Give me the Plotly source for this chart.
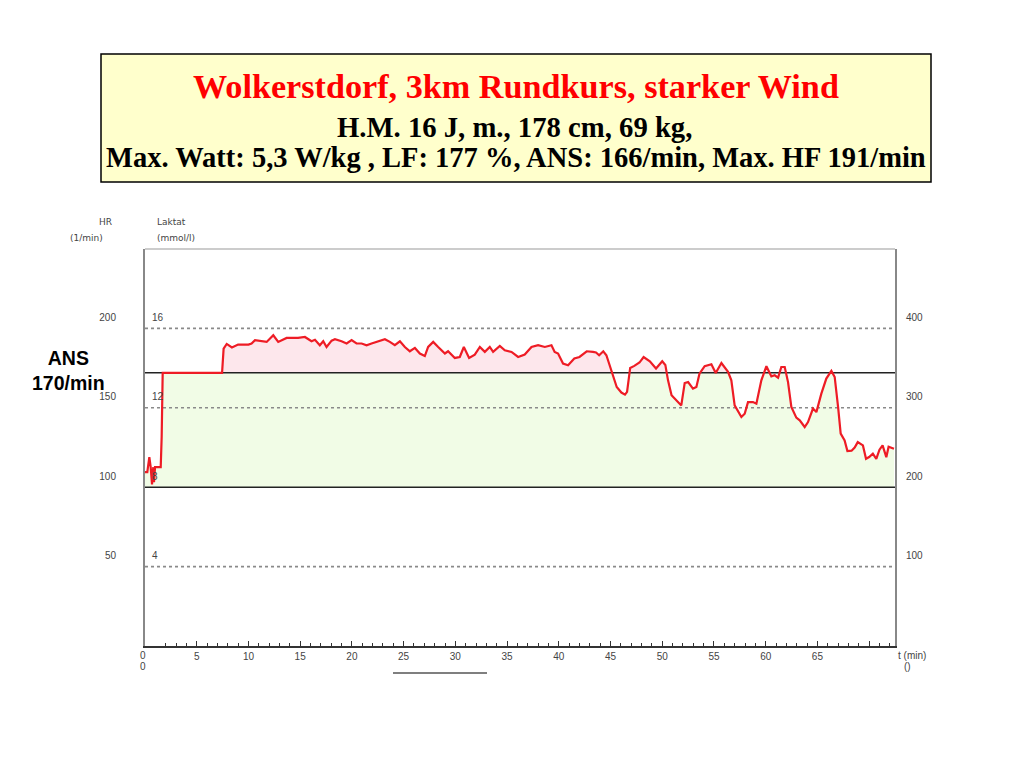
import plotly.graph_objects as go

# ---------------- data ----------------
t_min = [0.0, 0.22, 0.42, 0.55, 0.68, 0.80, 0.87, 0.97, 1.52, 1.61, 1.71, 7.45,
         7.6, 7.9, 8.4, 9.0, 10.0, 10.3, 10.63, 11.27, 11.76, 12.4, 12.88, 13.69,
         14.8, 15.46, 16.1, 16.43, 16.9, 17.23, 17.55, 18.04, 18.36, 19.0, 19.49,
         19.97, 20.45, 20.94, 21.42, 21.9, 22.53, 23.19, 23.67, 24.15, 24.64, 25.12,
         25.6, 26.09, 26.57, 27.05, 27.37, 27.86, 28.34, 28.99, 29.3, 29.95, 30.43,
         30.82, 31.33, 31.88, 32.37, 32.85, 33.33, 33.65, 34.3, 34.78, 35.43, 36.07,
         36.71, 37.36, 38.0, 38.65, 39.29, 39.6, 39.93, 40.41, 40.9, 41.5, 42.0,
         42.7, 43.3, 43.6, 43.9, 44.3, 44.6, 45.1, 45.6, 46.05, 46.4, 46.6, 46.9,
         47.3, 47.8, 48.2, 48.8, 49.4, 50.0, 50.3, 50.56, 50.9, 51.35, 51.84, 52.17,
         52.5, 52.97, 53.3, 53.6, 54.1, 54.75, 55.17, 55.72, 56.36, 56.68, 57.0,
         57.65, 57.97, 58.29, 58.77, 59.1, 59.58, 60.07, 60.55, 60.87, 61.2, 61.51,
         61.84, 62.16, 62.48, 62.96, 63.29, 63.77, 64.09, 64.57, 64.9, 65.38, 65.86,
         66.35, 66.67, 67.0, 67.25, 67.63, 67.9, 68.3, 68.6, 68.9, 69.4, 69.7, 70.0,
         70.36, 70.69, 71.0, 71.3, 71.66, 71.88, 72.4]
hr_bpm = [109.5, 109.5, 118.9, 112.6, 101.7, 112.6, 103.2, 112.6, 112.6, 131.5, 172.0, 172.0,
          187.3, 190.2, 188.0, 189.8, 189.8, 190.5, 192.6, 191.9, 191.5, 195.7, 191.5, 194.0,
          194.0, 194.6, 191.9, 192.8, 189.4, 191.9, 188.3, 192.3, 193.2, 191.9, 190.5,
          192.6, 190.5, 190.5, 189.4, 190.5, 191.9, 193.2, 191.5, 189.4, 191.9, 188.3,
          185.6, 187.7, 184.2, 182.6, 188.3, 191.5, 188.3, 184.2, 185.6, 181.4, 182.0,
          188.3, 181.4, 183.5, 188.3, 185.2, 188.3, 185.2, 189.0, 186.2, 185.2, 182.0,
          183.5, 188.3, 189.4, 188.3, 189.4, 185.2, 184.2, 177.9, 176.8, 181.0, 182.0,
          185.6, 185.2, 184.8, 183.1, 185.6, 183.1, 172.6, 163.1, 159.6, 158.3, 160.0, 175.1,
          176.4, 178.5, 182.0, 179.3, 174.7, 179.3, 177.0, 167.3, 157.9, 155.1, 151.5, 165.6,
          166.2, 162.1, 163.1, 171.5, 176.2, 177.4, 171.9, 178.2, 172.6, 167.3, 151.5,
          144.2, 146.3, 153.6, 153.6, 152.6, 167.3, 176.2, 169.8, 170.5, 169.0, 175.7,
          175.7, 166.2, 150.5, 143.8, 142.1, 137.9, 141.0, 149.5, 147.3, 158.9, 168.4,
          173.2, 169.4, 150.5, 133.7, 129.5, 122.7, 123.0, 124.9, 128.4, 126.3, 117.9, 119.0,
          121.1, 117.9, 123.6, 126.3, 118.9, 125.5, 124.2]

x_tick_vals = [0, 5, 10, 15, 20, 25, 30, 35, 40, 45, 50, 55, 60, 65, 70]
x_tick_text = ["", "5", "10", "15", "20", "25", "30", "35", "40", "45", "50", "55", "60", "65", ""]
hr_ticks = [50, 100, 150, 200]
lactate_ticks = [4, 8, 12, 16]
watt_ticks = [100, 200, 300, 400]
dotted_lactate = [4, 12, 16]
ans_hr = 172
lower_hr = 100
ans_label = "ANS<br>170/min"
title_line1 = "Wolkerstdorf, 3km Rundkurs, starker Wind"
title_line2 = "H.M. 16 J, m., 178 cm, 69 kg,"
title_line3 = "Max. Watt: 5,3 W/kg , LF: 177 %, ANS: 166/min, Max. HF 191/min"

X_MAX = 72.5
HR_MAX = 250
LAC_MAX = 20
W_MAX = 500
HR_PER_LAC = HR_MAX / LAC_MAX

# ---------------- layout geometry ----------------
# the html page body has an 8px margin; everything below is in page pixels
OFF = 8
W, H = 1024, 768
PLOT_L, PLOT_R, PLOT_T, PLOT_B = 145, 895, 249, 646
ML = PLOT_L - OFF
MT = PLOT_T - OFF
PW = PLOT_R - PLOT_L
PH = PLOT_B - PLOT_T
MR = W - ML - PW
MB = H - MT - PH


def px(x):
    return (x - PLOT_L) / PW


def py(y):
    return (PLOT_B - y) / PH


def with_crossings(xs, ys, levels):
    ox, oy = [xs[0]], [ys[0]]
    for i in range(1, len(xs)):
        x0, y0, x1, y1 = xs[i - 1], ys[i - 1], xs[i], ys[i]
        cuts = []
        for lv in levels:
            if (y0 - lv) * (y1 - lv) < 0:
                f = (lv - y0) / (y1 - y0)
                cuts.append((x0 + f * (x1 - x0), lv))
        cuts.sort()
        for cx_, cy_ in cuts:
            ox.append(cx_)
            oy.append(cy_)
        ox.append(x1)
        oy.append(y1)
    return ox, oy


cx, cy = with_crossings(t_min, hr_bpm, [lower_hr, ans_hr])
green_top = [min(max(v, lower_hr), ans_hr) for v in cy]
pink_top = [max(v, ans_hr) for v in cy]

fig = go.Figure()
nohover = dict(hoverinfo="skip", showlegend=False)

# green fill between 100 and min(HR, ANS)
fig.add_trace(go.Scatter(x=[cx[0], cx[-1]], y=[lower_hr, lower_hr], mode="lines",
                         line=dict(width=0), **nohover))
fig.add_trace(go.Scatter(x=cx, y=green_top, mode="lines", line=dict(width=0),
                         fill="tonexty", fillcolor="#F1FCE6", **nohover))
# pink fill between ANS and max(HR, ANS)
fig.add_trace(go.Scatter(x=[cx[0], cx[-1]], y=[ans_hr, ans_hr], mode="lines",
                         line=dict(width=0), **nohover))
fig.add_trace(go.Scatter(x=cx, y=pink_top, mode="lines", line=dict(width=0),
                         fill="tonexty", fillcolor="#FDE7EC", **nohover))

# dotted lactate reference lines
for lv in dotted_lactate:
    fig.add_trace(go.Scatter(x=[0, X_MAX], y=[lv * HR_PER_LAC] * 2, mode="lines",
                             line=dict(color="#8a8a8a", width=1.6, dash="dot"), **nohover))
# solid reference lines (ANS and lower bound)
for lv in [lower_hr, ans_hr]:
    fig.add_trace(go.Scatter(x=[0, X_MAX], y=[lv, lv], mode="lines",
                             line=dict(color="#222222", width=1.5), **nohover))

# heart-rate curve
fig.add_trace(go.Scatter(x=t_min, y=hr_bpm, mode="lines",
                         line=dict(color="#EE1C25", width=2.2), **nohover))

# invisible traces to activate secondary axes
fig.add_trace(go.Scatter(x=[0], y=[0], yaxis="y2", mode="markers",
                         marker=dict(opacity=0), **nohover))
fig.add_trace(go.Scatter(x=[0], y=[0], yaxis="y3", mode="markers",
                         marker=dict(opacity=0), **nohover))

tickfont = dict(family="Liberation Sans", size=10, color="#444444")

fig.update_layout(
    width=W, height=H,
    margin=dict(l=ML, r=MR, t=MT, b=MB, pad=0),
    paper_bgcolor="white", plot_bgcolor="white",
    showlegend=False,
    xaxis=dict(range=[0, X_MAX], tickvals=x_tick_vals, ticktext=x_tick_text,
               ticks="inside", ticklen=5, tickwidth=1, tickcolor="#333333",
               minor=dict(dtick=1, tick0=0, ticks="inside", ticklen=3, tickcolor="#333333"),
               showline=True, linecolor="#333333", linewidth=2,
               showgrid=False, zeroline=False, tickfont=tickfont, ticklabelstandoff=0),
    yaxis=dict(range=[0, HR_MAX], tickvals=hr_ticks, ticks="", showgrid=False,
               zeroline=False, showline=True, linecolor="#888888", linewidth=2,
               tickfont=tickfont, ticklabelshift=-11, ticklabelstandoff=25),
    yaxis2=dict(range=[0, LAC_MAX], tickvals=lactate_ticks, overlaying="y", side="left",
                anchor="x", ticks="", ticklabelposition="inside", showgrid=False,
                zeroline=False, showline=False, tickfont=tickfont,
                ticklabelshift=-11, ticklabelstandoff=4),
    yaxis3=dict(range=[0, W_MAX], tickvals=watt_ticks, overlaying="y", side="right",
                anchor="x", ticks="", showgrid=False, zeroline=False, showline=True,
                linecolor="#888888", linewidth=2, tickfont=tickfont,
                ticklabelshift=-11, ticklabelstandoff=7),
)

# top border of the plot frame
fig.add_shape(type="line", xref="paper", yref="paper", x0=0, x1=1, y0=1, y1=1,
              line=dict(color="#999999", width=1))

# title box
fig.add_shape(type="rect", xref="paper", yref="paper",
              x0=px(101), x1=px(931), y0=py(182), y1=py(54),
              line=dict(color="black", width=1.5), fillcolor="#FFFFCC", layer="above")
fig.add_annotation(xref="paper", yref="paper", x=px(516), y=py(86), text=title_line1,
                   showarrow=False, xanchor="center", yanchor="middle",
                   font=dict(family="Liberation Serif", size=34.2, color="#FF0000", weight="bold"))
fig.add_annotation(xref="paper", yref="paper", x=px(514), y=py(127), text=title_line2,
                   showarrow=False, xanchor="center", yanchor="middle",
                   font=dict(family="Liberation Serif", size=28.7, color="black", weight="bold"))
fig.add_annotation(xref="paper", yref="paper", x=px(516), y=py(158), text=title_line3,
                   showarrow=False, xanchor="center", yanchor="middle",
                   font=dict(family="Liberation Serif", size=28.5, color="black", weight="bold"))

small = dict(family="DejaVu Sans", size=9, color="#444444")
# axis headers
fig.add_annotation(xref="paper", yref="paper", x=px(105), y=py(222), text="HR",
                   showarrow=False, xanchor="center", yanchor="middle", font=small)
fig.add_annotation(xref="paper", yref="paper", x=px(86), y=py(238), text="(1/min)",
                   showarrow=False, xanchor="center", yanchor="middle", font=small)
fig.add_annotation(xref="paper", yref="paper", x=px(155), y=py(222), text="Laktat",
                   showarrow=False, xanchor="left", yanchor="middle", font=small)
fig.add_annotation(xref="paper", yref="paper", x=px(155), y=py(238), text="(mmol/l)",
                   showarrow=False, xanchor="left", yanchor="middle", font=small)
# x axis extras: origin labels (two rows), unit label
fig.add_annotation(xref="paper", yref="paper", x=px(143), y=py(655), text="0",
                   showarrow=False, xanchor="center", yanchor="middle", font=tickfont)
fig.add_annotation(xref="paper", yref="paper", x=px(143), y=py(666), text="0",
                   showarrow=False, xanchor="center", yanchor="middle", font=tickfont)
fig.add_annotation(xref="paper", yref="paper", x=px(896), y=py(655), text="t (min)",
                   showarrow=False, xanchor="left", yanchor="middle", font=tickfont)
fig.add_annotation(xref="paper", yref="paper", x=px(902), y=py(666), text="()",
                   showarrow=False, xanchor="left", yanchor="middle", font=tickfont)
fig.add_shape(type="line", xref="paper", yref="paper", x0=px(393), x1=px(487),
              y0=py(673), y1=py(673), line=dict(color="#555555", width=1.5))

# ANS label
fig.add_annotation(xref="paper", yref="paper", x=px(68), y=py(370), text=ans_label,
                   showarrow=False, xanchor="center", yanchor="middle",
                   font=dict(family="Liberation Sans", size=19.5, color="black", weight="bold"))

fig.write_html("out.html")
